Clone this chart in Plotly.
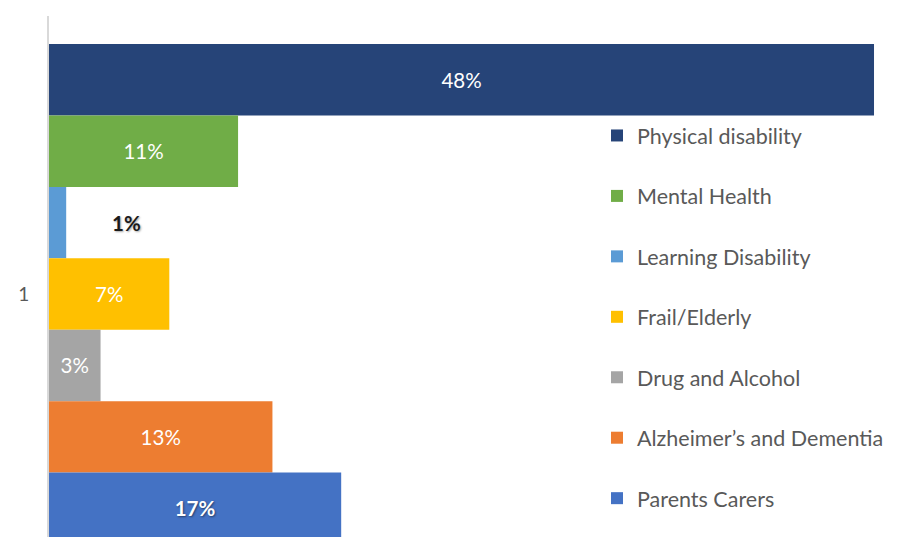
import plotly.graph_objects as go

categories = [1]
series_names = ["Physical disability", "Mental Health", "Learning Disability",
                "Frail/Elderly", "Drug and Alcohol", "Alzheimer\u2019s and Dementia",
                "Parents Carers"]
series_values = [48, 11, 1, 7, 3, 13, 17]
series_colors = ["#264478", "#70AD47", "#5B9BD5", "#FFC000", "#A5A5A5", "#ED7D31", "#4472C4"]
tick_labels = ["1"]

FONT = "Lato, Calibri, Carlito, sans-serif"
fig = go.Figure()
bargap = 0.1
n = len(series_values)
for i, (name, val, col) in enumerate(zip(series_names, series_values, series_colors)):
    inside = val >= 3
    bold = name == "Parents Carers"
    fig.add_trace(go.Bar(
        y=categories, x=[val], orientation="h", name=name,
        marker=dict(color=col, line=dict(width=0)),
        text=[f"{val}%"] if inside else None,
        textposition="inside", insidetextanchor="middle",
        textfont=dict(family=FONT, size=20.5, color="white",
                      weight="bold" if bold else "normal",
                      shadow="1px 1px 2px rgba(0,0,0,0.45)" if bold else "none"),
        legendgroup=name, hoverinfo="skip",
    ))

# label for the small bar, placed beside it
small_idx = 2
w = (1 - bargap) / n
y_small = categories[0] - (1 - bargap) / 2 + w * (small_idx + 0.5)
fig.add_annotation(x=series_values[small_idx], y=y_small, xref="x", yref="y",
                   text=f"{series_values[small_idx]}%", showarrow=False,
                   xanchor="center", xshift=60,
                   font=dict(family=FONT, size=20.5, color="#1a1a1a", weight="bold",
                             shadow="1px 1px 2px rgba(0,0,0,0.35)"))

fig.update_layout(
    width=904, height=529,
    margin=dict(l=41, r=0, t=8, b=0),
    paper_bgcolor="white", plot_bgcolor="white",
    barmode="group", bargap=bargap, bargroupgap=0,
    showlegend=True,
    legend=dict(x=0.635, xanchor="left", y=0.810, yanchor="top",
                font=dict(family=FONT, size=21.5, color="#595959"),
                tracegroupgap=29.5, bgcolor="rgba(0,0,0,0)", itemclick=False),
    xaxis=dict(visible=False, range=[0, 50.21], fixedrange=True),
    yaxis=dict(range=[1.4373, 0.4996], tickvals=categories, ticktext=tick_labels,
               showline=True, linecolor="#d9d9d9", linewidth=2, showgrid=False,
               zeroline=False, ticks="", ticklabelstandoff=14,
               tickfont=dict(family=FONT, size=19, color="#595959")),
)

fig.write_html("out.html")
